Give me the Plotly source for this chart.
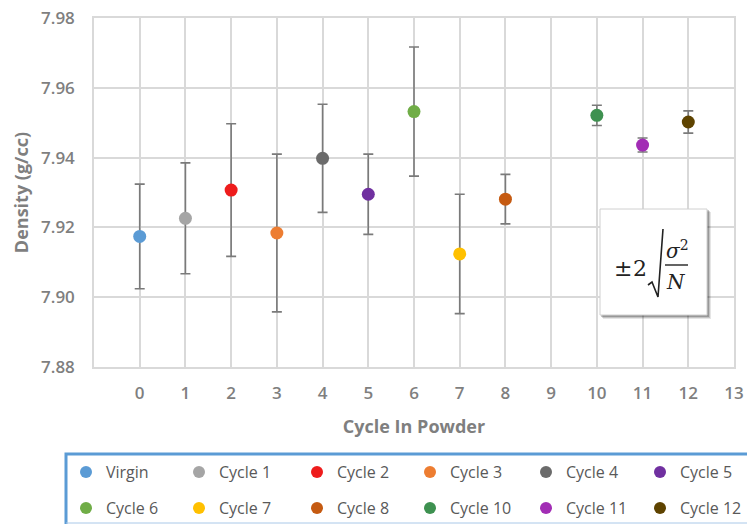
import plotly.graph_objects as go

# ---- data ----
names = ["Virgin", "Cycle 1", "Cycle 2", "Cycle 3", "Cycle 4", "Cycle 5",
         "Cycle 6", "Cycle 7", "Cycle 8", "Cycle 10", "Cycle 11", "Cycle 12"]
cycles = [0, 1, 2, 3, 4, 5, 6, 7, 8, 10, 11, 12]
density = [7.9174, 7.9226, 7.9307, 7.9184, 7.9398, 7.9295,
           7.9532, 7.9124, 7.9281, 7.9521, 7.9436, 7.9502]
err2 = [0.0150, 0.0159, 0.0190, 0.0226, 0.0155, 0.0115,
        0.0185, 0.0171, 0.0071, 0.0029, 0.0020, 0.0032]
colors = ["#5B9BD5", "#A5A5A5", "#EE1C1C", "#ED7D31", "#6B6B6B", "#7030A0",
          "#70AD47", "#FFC000", "#C55A11", "#3E9150", "#A22DB5", "#5E4300"]
x_ticks = list(range(0, 14))
y_ticks = [7.88, 7.90, 7.92, 7.94, 7.96, 7.98]

W, H = 747, 524
L, R, T, B = 94, 734, 18, 367
legend_cols = [86, 199, 317, 430, 546, 660]   # marker centre of each legend column (px)
legend_rows = [472, 508]                      # row centres (px)


def px(x):
    return (x - L) / (R - L)


def py(y):
    return (B - y) / (B - T)


fig = go.Figure()
layout_legends = {}
legfont = dict(family="Open Sans", size=16, color="#595959")
for i, (n, c, d, e, col) in enumerate(zip(names, cycles, density, err2, colors)):
    key = "legend" if i == 0 else "legend%d" % (i + 1)
    fig.add_trace(go.Scatter(
        x=[c], y=[d], name=n, mode="markers", legend=key,
        marker=dict(color=col, size=13),
        error_y=dict(type="data", array=[e], visible=True,
                     color="#7A7A7A", thickness=1.6, width=5),
    ))
    mx = legend_cols[i % 6]
    my = legend_rows[i // 6]
    layout_legends[key] = dict(
        orientation="h", xref="container", yref="container",
        x=(mx - 20) / W, y=(H - my) / H, xanchor="left", yanchor="middle",
        borderwidth=0, bgcolor="rgba(0,0,0,0)", font=legfont,
        itemwidth=30, itemsizing="constant")

grid = "#D9D9D9"
tickfont = dict(family="Open Sans", size=17, color="#7F7F7F", weight=600)

fig.update_layout(
    width=W, height=H,
    margin=dict(l=L, r=W - R, t=T, b=H - B),
    paper_bgcolor="white", plot_bgcolor="white",
    showlegend=True,
    xaxis=dict(range=[-1, 13], tickvals=x_ticks, ticktext=[str(v) for v in x_ticks],
               showgrid=True, gridcolor=grid, gridwidth=1.5,
               showline=True, linecolor=grid, linewidth=1.5, mirror=True,
               zeroline=False, ticks="", ticklabelstandoff=10, automargin=False,
               tickfont=tickfont,
               title=dict(text="<b>Cycle In Powder</b>", standoff=17,
                          font=dict(family="Open Sans", size=18, color="#7F7F7F"))),
    yaxis=dict(range=[7.88, 7.98], tickvals=y_ticks,
               ticktext=["%.2f" % v for v in y_ticks],
               showgrid=True, gridcolor=grid, gridwidth=1.5,
               showline=True, linecolor=grid, linewidth=1.5, mirror=True,
               zeroline=False, ticks="", ticklabelstandoff=14, automargin=False,
               tickfont=tickfont,
               title=dict(text="<b>Density (g/cc)</b>", standoff=8,
                          font=dict(family="Open Sans", size=18, color="#7F7F7F"))),
    **layout_legends,
)

# legend frame
fig.add_shape(type="rect", xref="paper", yref="paper",
              x0=px(66), x1=px(765), y0=py(530), y1=py(454),
              line=dict(color="#5B9BD5", width=3), fillcolor="rgba(0,0,0,0)", layer="above")
fig.add_shape(type="line", xref="paper", yref="paper",
              x0=px(66), x1=px(765), y0=py(523), y1=py(523),
              line=dict(color="#A9C8E8", width=1), layer="above")

# formula box with shadow
for i, op in enumerate([0.10, 0.15, 0.22]):
    o = 4 - i
    fig.add_shape(type="rect", xref="paper", yref="paper",
                  x0=px(600 + o - 1), x1=px(707 + o), y0=py(315 + o), y1=py(209 + o - 1),
                  fillcolor="#000000", opacity=op, line=dict(width=0), layer="above")
fig.add_shape(type="rect", xref="paper", yref="paper",
              x0=px(600), x1=px(707), y0=py(315), y1=py(209),
              fillcolor="white", line=dict(color="#D0D0D0", width=1), layer="above")
# radical sign
path = "M {:.5f},{:.5f} L {:.5f},{:.5f} L {:.5f},{:.5f} L {:.5f},{:.5f}".format(
    px(648), py(285), px(652), py(282), px(658), py(297), px(663), py(229))
fig.add_shape(type="path", xref="paper", yref="paper", path=path,
              line=dict(color="#222222", width=1.6), layer="above")
fig.add_shape(type="line", xref="paper", yref="paper",
              x0=px(665), x1=px(688), y0=py(265), y1=py(265),
              line=dict(color="#222222", width=1.4), layer="above")
ffont = dict(family="DejaVu Serif", size=22, color="#222222")
ifont = dict(family="DejaVu Serif", size=20, color="#222222")
fig.add_annotation(xref="paper", yref="paper", x=px(623), y=py(268), text="±",
                   showarrow=False, font=ffont, xanchor="center", yanchor="middle")
fig.add_annotation(xref="paper", yref="paper", x=px(640), y=py(268), text="2",
                   showarrow=False, font=ffont, xanchor="center", yanchor="middle")
fig.add_annotation(xref="paper", yref="paper", x=px(677), y=py(250),
                   text="<i>σ</i><sup>2</sup>",
                   showarrow=False, font=ifont, xanchor="center", yanchor="middle")
fig.add_annotation(xref="paper", yref="paper", x=px(676), y=py(282), text="<i>N</i>",
                   showarrow=False, font=ifont, xanchor="center", yanchor="middle")

fig.write_html("out.html")
